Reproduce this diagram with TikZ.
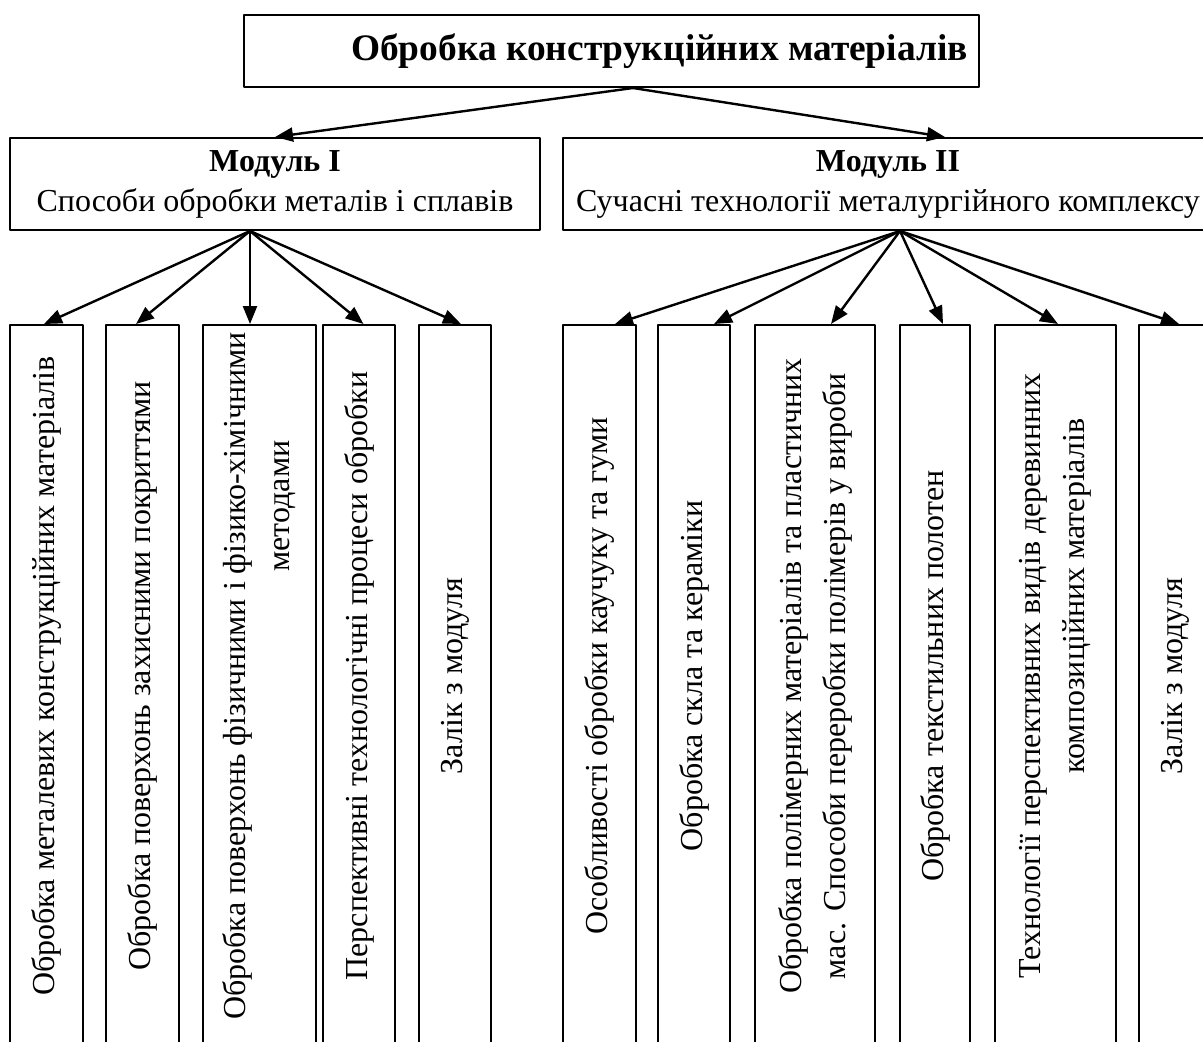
\documentclass[tikz,border=0pt]{standalone}
\usepackage{fontspec}
\setmainfont{Liberation Serif}
\usetikzlibrary{arrows.meta}
\usetikzlibrary{positioning}

\tikzset{
	mainbox/.style={draw,line width=1pt,minimum width=367.5pt,minimum height=36pt,
		font=\fontsize{18.7}{22}\selectfont\bfseries},
	modbox/.style={draw,line width=1pt,minimum height=46pt,align=center,
		font=\fontsize{16}{20}\selectfont},
	topicbox/.style={draw,line width=1pt,anchor=north,minimum height=380pt},
	topictext/.style={rotate=90,align=center,font=\fontsize{16}{22}\selectfont},
	link/.style={->,line width=1.2pt}
}

\begin{document}
\begin{tikzpicture}[line cap=round,line join=round,>
		={Triangle[length=9pt,width=7pt]},x=0.5pt,y=-0.5pt]
		\useasboundingbox (0,0) rectangle (1203,1041);
		\clip (0,0) rectangle (1203,1041);
		% head
		\node[mainbox] (top) at (611.5,51) {\hspace*{48pt}Обробка конструкційних матеріалів};
		% modules
		\node[modbox,minimum width=265pt] (m1) at (275,184)
		{{\bfseries Модуль I}\\Способи обробки металів і сплавів};
		\node[modbox,minimum width=325pt] (m2) at (888,184)
		{{\bfseries Модуль II}\\Сучасні технології металургійного комплексу};
		\draw[link] ([xshift=10.75pt]top.south) -- (m1.north);
		\draw[link] ([xshift=10.75pt]top.south) -- ([xshift=28.5pt]m2.north);
		% topics of module I
		\node[topicbox,minimum width=36.5pt] (a1) at (46.5,324) {};
		\node[topicbox,minimum width=36.5pt] (a2) at (142.5,324) {};
		\node[topicbox,minimum width=56.5pt] (a3) at (259.5,324) {};
		\node[topicbox,minimum width=36pt] (a4) at (359,324) {};
		\node[topicbox,minimum width=36pt] (a5) at (455,324) {};
		\node[topictext] (ta1) at (46.5,676) {Обробка металевих конструкційних матеріалів};
		\node[topictext] (ta2) at (142.5,676) {Обробка поверхонь захисними покриттями};
		\node[topictext] (ta3) at (259.5,676) {Обробка поверхонь фізичними і фізико-хімічними\\\hspace*{170pt}методами};
		\node[topictext] (ta4) at (359,676) {Перспективні технологічні процеси обробки};
		\node[topictext] (ta5) at (455,676) {Залік з модуля};
		\draw[link] ([xshift=-12.5pt]m1.south) -- ([xshift=-1.25pt]a1.north);
		\draw[link] ([xshift=-12.5pt]m1.south) -- ([xshift=-3.25pt]a2.north);
		\draw[link] ([xshift=-12.5pt]m1.south) -- ([xshift=-4.75pt]a3.north);
		\draw[link] ([xshift=-12.5pt]m1.south) -- ([xshift=2.25pt]a4.north);
		\draw[link] ([xshift=-12.5pt]m1.south) -- ([xshift=3pt]a5.north);
		% topics of module II
		\node[topicbox,minimum width=36.5pt] (b1) at (599.5,324) {};
		\node[topicbox,minimum width=36pt] (b2) at (694,324) {};
		\node[topicbox,minimum width=60pt] (b3) at (815,324) {};
		\node[topicbox,minimum width=35pt] (b4) at (935,324) {};
		\node[topicbox,minimum width=60.5pt] (b5) at (1055.5,324) {};
		\node[topicbox,minimum width=36.5pt] (b6) at (1175.5,324) {};
		\node[topictext] (tb1) at (599.5,676) {Особливості обробки каучуку та гуми};
		\node[topictext] (tb2) at (694,676) {Обробка скла та кераміки};
		\node[topictext] (tb3) at (815,676) {Обробка полімерних матеріалів та пластичних\\мас. Способи переробки полімерів у вироби};
		\node[topictext] (tb4) at (935,676) {Обробка текстильних полотен};
		\node[topictext] (tb5) at (1055.5,676) {Технології перспективних видів деревинних\\\hspace*{80pt}композиційних матеріалів};
		\node[topictext] (tb6) at (1175.5,676) {Залік з модуля};
		\draw[link] ([xshift=6pt]m2.south) -- ([xshift=7.75pt]b1.north);
		\draw[link] ([xshift=6pt]m2.south) -- ([xshift=10pt]b2.north);
		\draw[link] ([xshift=6pt]m2.south) -- ([xshift=8pt]b3.north);
		\draw[link] ([xshift=6pt]m2.south) -- ([xshift=4pt]b4.north);
		\draw[link] ([xshift=6pt]m2.south) -- ([xshift=1.25pt]b5.north);
		\draw[link] ([xshift=6pt]m2.south) -- ([xshift=1.75pt]b6.north);
\end{tikzpicture}
\end{document}
